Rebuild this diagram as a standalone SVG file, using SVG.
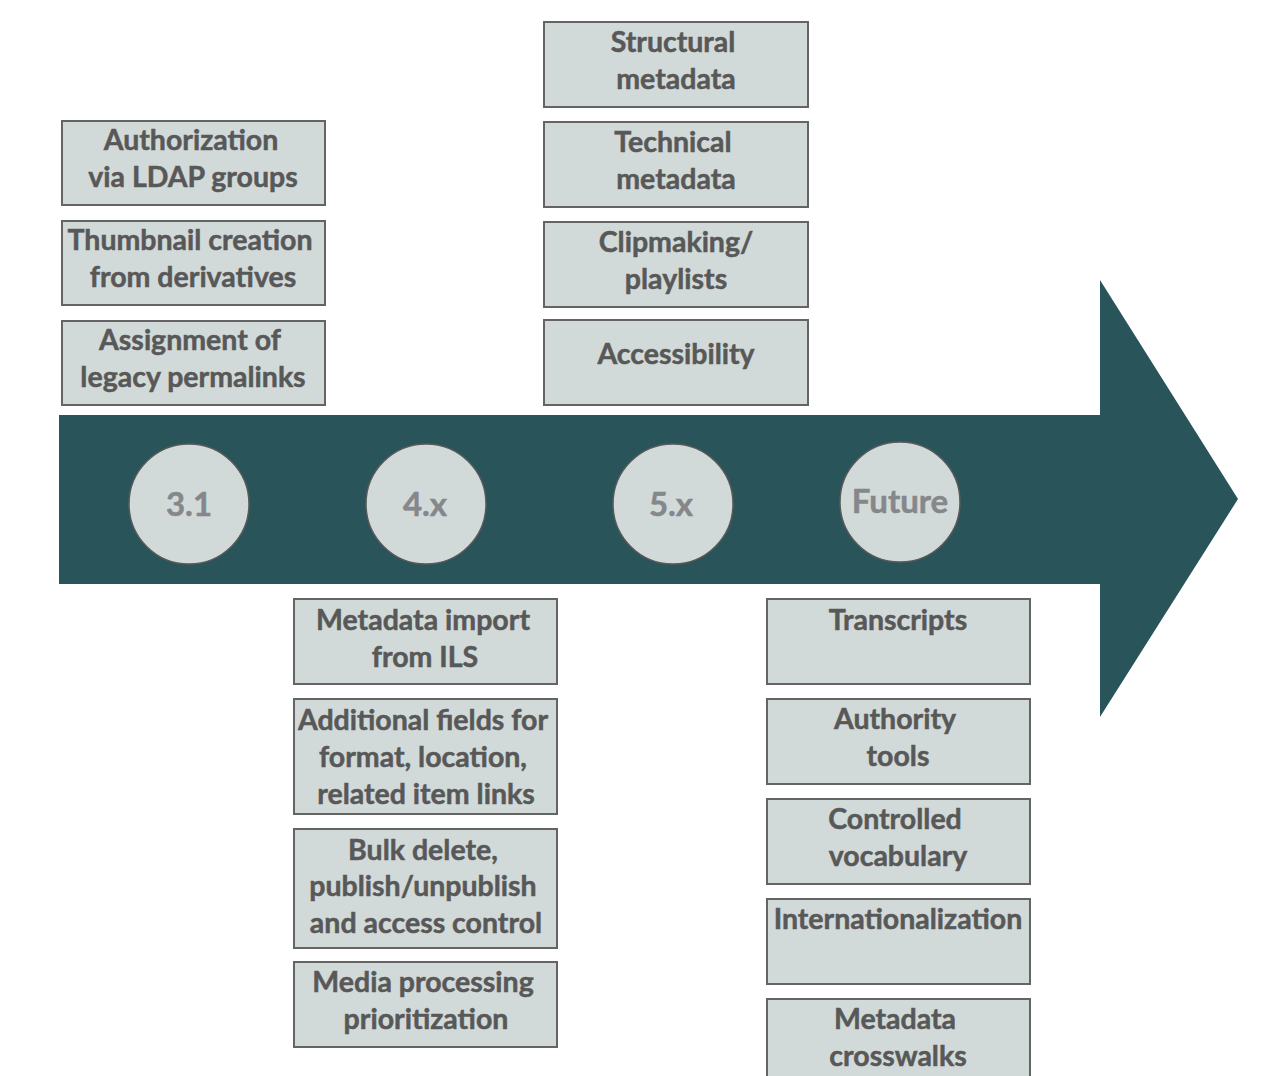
<svg xmlns="http://www.w3.org/2000/svg" width="1266" height="1076" viewBox="0 0 1266 1076">
<style>
.box{fill:#d2dad9;stroke:#646464;stroke-width:2}
.t{font-family:Lato,"Open Sans","Liberation Sans",sans-serif;font-weight:bold;font-size:28.5px;fill:#585858;stroke:#585858;stroke-width:0.5;text-anchor:middle}
.c{fill:#d2dad9;stroke:#5a5a5a;stroke-width:1.5}
.ct{font-family:Lato,"Open Sans","Liberation Sans",sans-serif;font-weight:bold;font-size:33px;fill:#85878b;stroke:#85878b;stroke-width:0.5;text-anchor:middle}
</style>
<rect width="1266" height="1076" fill="#ffffff"/>
<g id="arrow">
<polygon points="59,415 1100,415 1100,280 1238,499 1100,717 1100,584 59,584" fill="#28545a"/>
</g>
<g id="connectors"></g>
<g id="v31"><circle class="c" cx="189" cy="504" r="60"/><text class="ct" x="189" y="516">3.1</text></g>
<g id="v4x"><circle class="c" cx="426" cy="504" r="60"/><text class="ct" x="425" y="516">4.x</text></g>
<g id="v5x"><circle class="c" cx="673" cy="504" r="60"/><text class="ct" x="671" y="516">5.x</text></g>
<g id="vfuture"><circle class="c" cx="900" cy="502" r="60"/><text class="ct" x="900" y="513">Future</text></g>

<g id="n-auth"><rect class="box" x="62" y="121" width="263" height="84"/><text class="t" x="191" y="150">Authorization</text><text class="t" x="193" y="187">via LDAP groups</text></g>
<g id="n-thumb"><rect class="box" x="62" y="221" width="263" height="84"/><text class="t" x="190" y="250">Thumbnail creation</text><text class="t" x="193" y="287">from derivatives</text></g>
<g id="n-assign"><rect class="box" x="62" y="321" width="263" height="84"/><text class="t" x="190" y="350">Assignment of</text><text class="t" x="193" y="387">legacy permalinks</text></g>

<g id="n-struct"><rect class="box" x="544" y="22" width="264" height="85"/><text class="t" x="673" y="52">Structural</text><text class="t" x="676" y="89">metadata</text></g>
<g id="n-tech"><rect class="box" x="544" y="122" width="264" height="85"/><text class="t" x="673" y="152">Technical</text><text class="t" x="676" y="189">metadata</text></g>
<g id="n-clip"><rect class="box" x="544" y="222" width="264" height="85"/><text class="t" x="676" y="252">Clipmaking/</text><text class="t" x="676" y="289">playlists</text></g>
<g id="n-access"><rect class="box" x="544" y="320" width="264" height="85"/><text class="t" x="676" y="364">Accessibility</text></g>

<g id="n-import"><rect class="box" x="294" y="599" width="263" height="85"/><text class="t" x="423" y="630">Metadata import</text><text class="t" x="425" y="667">from ILS</text></g>
<g id="n-fields"><rect class="box" x="294" y="699" width="263" height="115"/><text class="t" x="423" y="730">Additional fields for</text><text class="t" x="423" y="767">format, location,</text><text class="t" x="426" y="804">related item links</text></g>
<g id="n-bulk"><rect class="box" x="294" y="829" width="263" height="119"/><text class="t" x="423" y="860">Bulk delete,</text><text class="t" x="423" y="896">publish/unpublish</text><text class="t" x="426" y="933">and access control</text></g>
<g id="n-media"><rect class="box" x="294" y="962" width="263" height="85"/><text class="t" x="423" y="992">Media processing</text><text class="t" x="426" y="1029">prioritization</text></g>

<g id="n-trans"><rect class="box" x="767" y="599" width="263" height="85"/><text class="t" x="898" y="630">Transcripts</text></g>
<g id="n-authority"><rect class="box" x="767" y="699" width="263" height="85"/><text class="t" x="895" y="729">Authority</text><text class="t" x="898" y="766">tools</text></g>
<g id="n-vocab"><rect class="box" x="767" y="799" width="263" height="85"/><text class="t" x="895" y="829">Controlled</text><text class="t" x="898" y="866">vocabulary</text></g>
<g id="n-intl"><rect class="box" x="767" y="899" width="263" height="85"/><text class="t" x="898" y="929">Internationalization</text></g>
<g id="n-cross"><rect class="box" x="767" y="999" width="263" height="85"/><text class="t" x="895" y="1029">Metadata</text><text class="t" x="898" y="1066">crosswalks</text></g>
</svg>
